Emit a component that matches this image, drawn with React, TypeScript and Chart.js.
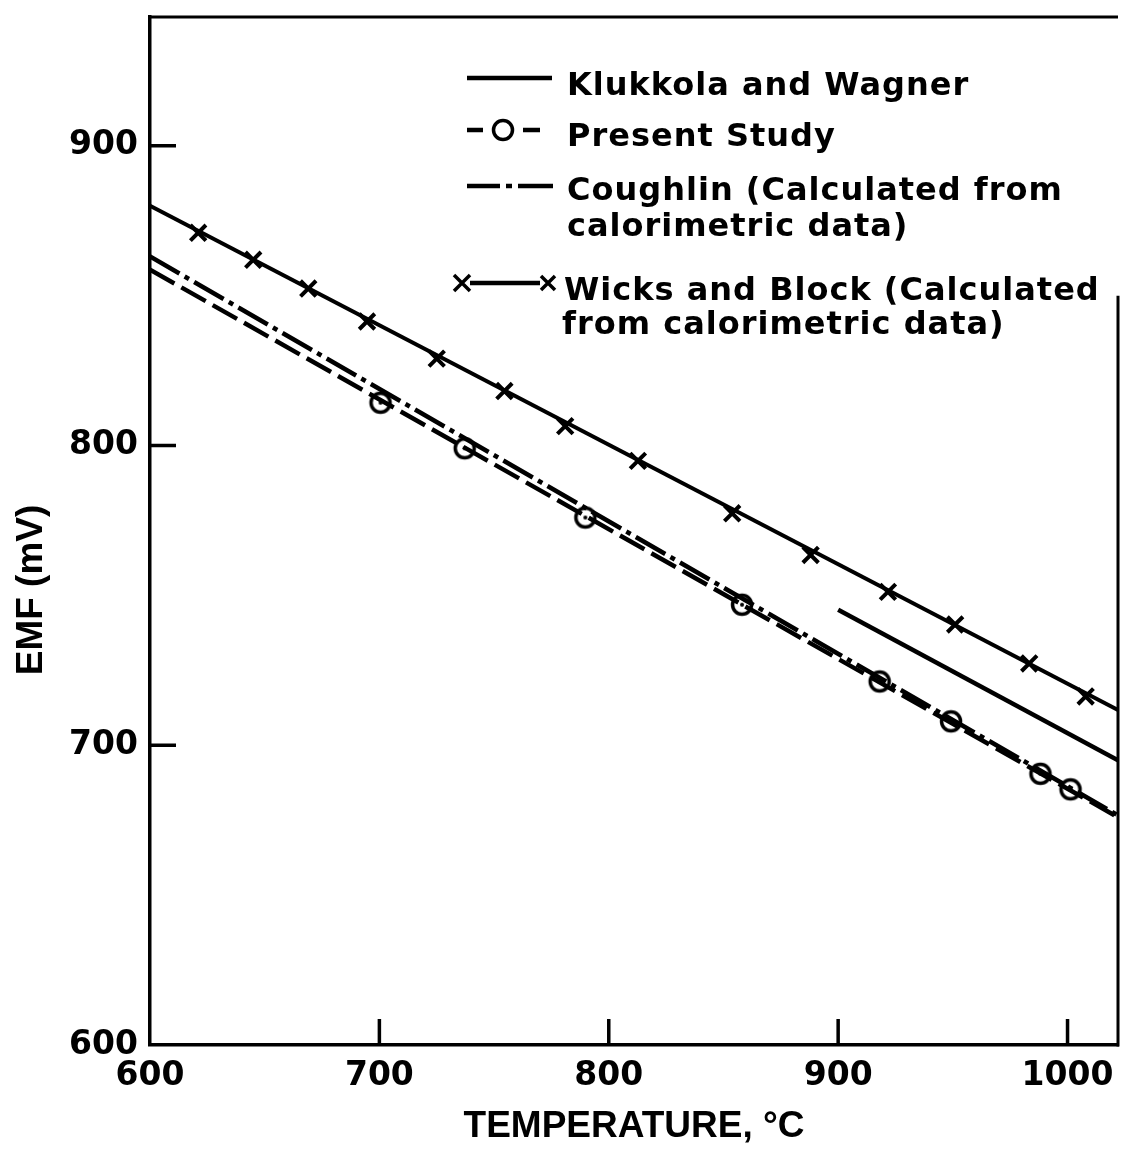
import React, { useEffect, useRef } from "react";
import { Chart, registerables } from "chart.js";

Chart.register(...registerables);

// ---- data ----
const xTickValues = [600, 700, 800, 900, 1000];
const yTickValues = [600, 700, 800, 900];

const seriesLabels = [
  ["Klukkola and Wagner"],
  ["Present Study"],
  ["Coughlin (Calculated from", "calorimetric data)"],
  ["Wicks and Block (Calculated", "from calorimetric data)"],
];

const klukkolaT = [900, 1022];
const klukkolaE = [745.2, 695.0];

const presentFitT = [600, 1022];
const presentFitE = [858.7, 676.0];

const presentT = [700.5, 737.2, 789.8, 858.1, 918.1, 949.2, 988.2, 1001.3];
const presentE = [814.3, 799.1, 776.0, 746.9, 721.3, 708.0, 690.5, 685.3];

const coughlinT = [600, 1022];
const coughlinE = [863.1, 676.6];

const wicksLineT = [600, 1022];
const wicksLineE = [880.0, 711.8];

const wicksT = [621, 645, 669, 694.6, 725, 754.5, 781, 812.7, 853.8, 888, 921.7, 951, 983.3, 1007.9];
const wicksE = [871, 862, 852.4, 841.4, 829, 818.2, 806.5, 794.9, 777.4, 763.5, 751.2, 740.3, 727.3, 716.3];

const xTitle = "TEMPERATURE, °C";
const yTitle = "EMF (mV)";

const pts = (xs: number[], ys: number[]) => xs.map((x, i) => ({ x, y: ys[i] }));

function makeCircleMarker(): HTMLCanvasElement {
  const c = document.createElement("canvas");
  c.width = 26;
  c.height = 26;
  const g = c.getContext("2d")!;
  g.beginPath();
  g.arc(13, 13, 9.5, 0, Math.PI * 2);
  g.fillStyle = "#fff";
  g.fill();
  g.lineWidth = 3.5;
  g.strokeStyle = "#000";
  g.stroke();
  g.beginPath();
  g.arc(13, 13, 2, 0, Math.PI * 2);
  g.fillStyle = "#000";
  g.fill();
  return c;
}

const LINE_W = 4.5;
const DASH_PRESENT = [28, 8];
const DASH_COUGHLIN = [34, 6, 5, 6];

export default function App() {
  const ref = useRef<HTMLCanvasElement | null>(null);

  useEffect(() => {
    document.body.style.margin = "0";
    const canvas = ref.current!;
    const circle = makeCircleMarker();

    const decor = {
      id: "decor",
      afterDraw(chart: any) {
        const ctx = chart.ctx as CanvasRenderingContext2D;
        const { left, right, top, bottom } = chart.chartArea;
        const xs = chart.scales.x;
        const ys = chart.scales.y;
        ctx.save();
        ctx.strokeStyle = "#000";
        ctx.lineCap = "butt";
        // inward tick marks
        ctx.lineWidth = 3.5;
        ctx.beginPath();
        yTickValues.forEach((v) => {
          const py = ys.getPixelForValue(v);
          if (v === 600) return;
          ctx.moveTo(left, py);
          ctx.lineTo(left + 26, py);
        });
        xTickValues.forEach((v) => {
          const px = xs.getPixelForValue(v);
          if (v === 600) return;
          ctx.moveTo(px, bottom);
          ctx.lineTo(px, bottom - 26);
        });
        ctx.stroke();
        // top and right frame
        ctx.lineWidth = 3;
        ctx.beginPath();
        ctx.moveTo(left - 1.5, top);
        ctx.lineTo(right, top);
        ctx.moveTo(right, ys.getPixelForValue(850));
        ctx.lineTo(right, bottom + 1.5);
        ctx.stroke();

        // y title
        ctx.fillStyle = "#000";
        ctx.font = "bold 37px 'Liberation Sans'";
        ctx.textAlign = "center";
        ctx.textBaseline = "middle";
        ctx.save();
        ctx.translate(32, 590);
        ctx.rotate(-Math.PI / 2);
        ctx.fillText(yTitle, 0, 0);
        ctx.restore();

        // legend
        const tx = 567;
        const textY = [[87], [138], [192, 228], [292, 326]];
        ctx.font = "bold 32px 'DejaVu Sans'";
        (ctx as any).letterSpacing = "1px";
        ctx.textAlign = "left";
        seriesLabels.forEach((lines, i) => {
          lines.forEach((t, j) => ctx.fillText(t, tx - (i === 3 ? 3 + j * 2 : 0), textY[i][j]));
        });
        (ctx as any).letterSpacing = "0px";

        ctx.lineWidth = LINE_W;
        // Klukkola sample
        ctx.setLineDash([]);
        ctx.beginPath();
        ctx.moveTo(467, 78);
        ctx.lineTo(552, 78);
        ctx.stroke();
        // Present study sample
        ctx.beginPath();
        ctx.moveTo(467, 130);
        ctx.lineTo(483, 130);
        ctx.moveTo(523, 130);
        ctx.lineTo(540, 130);
        ctx.stroke();
        ctx.beginPath();
        ctx.arc(503, 130, 9.5, 0, Math.PI * 2);
        ctx.lineWidth = 3.5;
        ctx.stroke();
        // Coughlin sample
        ctx.lineWidth = LINE_W;
        ctx.beginPath();
        ctx.moveTo(467, 186);
        ctx.lineTo(500, 186);
        ctx.moveTo(506, 186);
        ctx.lineTo(512, 186);
        ctx.moveTo(518, 186);
        ctx.lineTo(553, 186);
        ctx.stroke();
        // Wicks sample
        ctx.beginPath();
        ctx.moveTo(470, 283);
        ctx.lineTo(540, 283);
        ctx.stroke();
        ctx.lineWidth = 3.5;
        const drawX = (cx: number, cy: number, r: number) => {
          ctx.beginPath();
          ctx.moveTo(cx - r, cy - r);
          ctx.lineTo(cx + r, cy + r);
          ctx.moveTo(cx + r, cy - r);
          ctx.lineTo(cx - r, cy + r);
          ctx.stroke();
        };
        drawX(462, 283, 8);
        drawX(548, 283, 7);
        ctx.restore();
      },
    };

    const tickFont = { family: "'DejaVu Sans'", weight: "bold" as const, size: 33 };

    const chart = new Chart(canvas, {
      type: "scatter",
      data: {
        datasets: [
          {
            label: seriesLabels[0].join(" "),
            data: pts(klukkolaT, klukkolaE),
            showLine: true,
            borderColor: "#000",
            borderWidth: LINE_W,
            pointRadius: 0,
          },
          {
            label: seriesLabels[1].join(" ") + " (fit)",
            data: pts(presentFitT, presentFitE),
            showLine: true,
            borderColor: "#000",
            borderWidth: LINE_W,
            borderDash: DASH_PRESENT,
            pointRadius: 0,
          },
          {
            label: seriesLabels[2].join(" "),
            data: pts(coughlinT, coughlinE),
            showLine: true,
            borderColor: "#000",
            borderWidth: LINE_W,
            borderDash: DASH_COUGHLIN,
            pointRadius: 0,
          },
          {
            label: seriesLabels[3].join(" ") + " (line)",
            data: pts(wicksLineT, wicksLineE),
            showLine: true,
            borderColor: "#000",
            borderWidth: 4,
            pointRadius: 0,
          },
          {
            label: seriesLabels[3].join(" "),
            data: pts(wicksT, wicksE),
            showLine: false,
            borderColor: "#000",
            backgroundColor: "#000",
            pointStyle: "crossRot",
            pointRadius: 11,
            pointBorderWidth: 4,
          },
          {
            label: seriesLabels[1].join(" "),
            data: pts(presentT, presentE),
            showLine: false,
            pointStyle: circle as any,
            pointRadius: 11,
          },
        ],
      },
      options: {
        animation: false,
        responsive: false,
        maintainAspectRatio: false,
        layout: { padding: { top: 17, right: 11, left: 0, bottom: 0 } },
        plugins: {
          legend: { display: false },
          tooltip: { enabled: false },
        },
        scales: {
          x: {
            type: "linear",
            position: "bottom",
            min: 600,
            max: 1022,
            grid: { display: false, drawTicks: false },
            border: { display: true, color: "#000", width: 3.5 },
            ticks: {
              stepSize: 100,
              includeBounds: false,
              color: "#000",
              padding: 12,
              font: tickFont,
              callback: (v: any) => String(v),
            },
            title: {
              display: true,
              text: xTitle,
              color: "#000",
              padding: { top: 0, bottom: 0 },
              font: { family: "'Liberation Sans'", weight: "bold", size: 37 },
            },
            afterFit: (s: any) => {
              s.height = 104;
              s.paddingLeft = 0;
              s.paddingRight = 0;
            },
          },
          y: {
            type: "linear",
            min: 600,
            max: 943,
            grid: { display: false, drawTicks: false },
            border: { display: true, color: "#000", width: 3.5 },
            ticks: {
              stepSize: 100,
              includeBounds: false,
              color: "#000",
              padding: 12,
              font: tickFont,
              callback: (v: any) => String(v),
            },
            afterFit: (s: any) => {
              s.width = 150;
              s.paddingTop = 0;
              s.paddingBottom = 0;
            },
          },
        },
      },
      plugins: [decor],
    });
    return () => chart.destroy();
  }, []);

  return (
    <div style={{ width: 1133, height: 1149, background: "#fff" }}>
      <canvas ref={ref} width={1133} height={1149} style={{ display: "block" }} />
    </div>
  );
}
